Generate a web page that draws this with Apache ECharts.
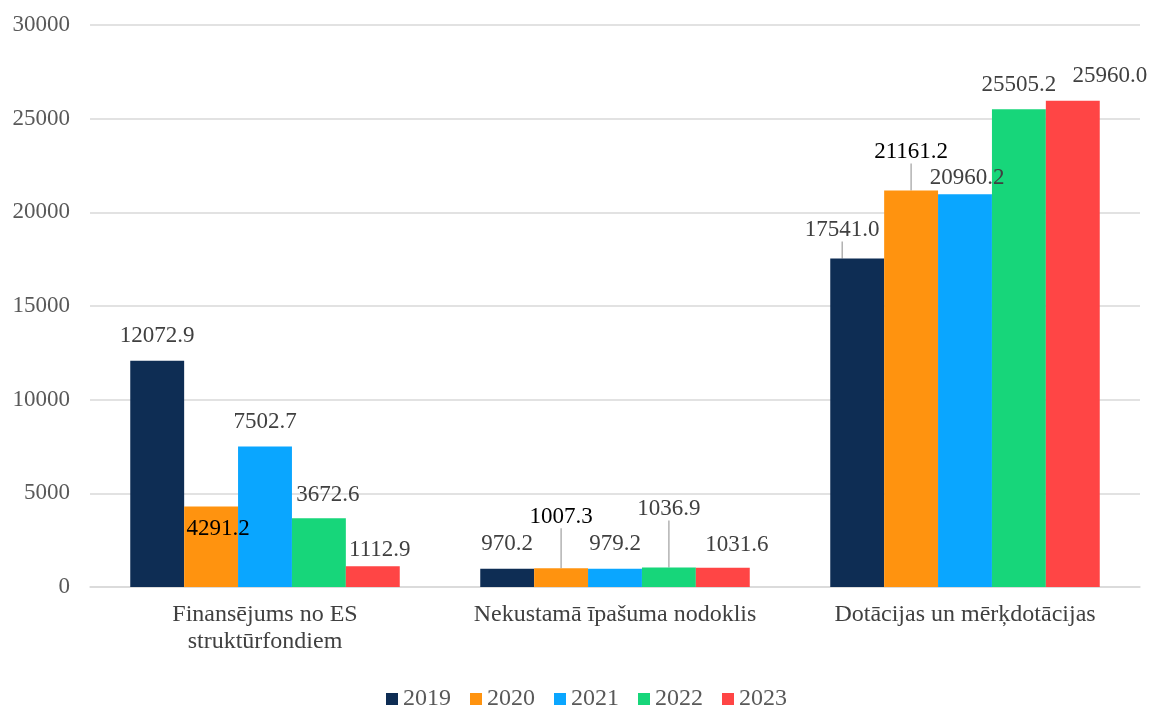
<!DOCTYPE html>
<html>
<head>
<meta charset="utf-8">
<script src="https://cdn.jsdelivr.net/npm/echarts@6/dist/echarts.min.js"></script>
<style>html,body{margin:0;padding:0;background:#fff}#c{width:1150px;height:708px}</style>
</head>
<body>
<div id="c"></div>
<script>
const categories = ['Finansējums no ES\nstruktūrfondiem', 'Nekustamā īpašuma nodoklis', 'Dotācijas un mērķdotācijas'];
const years = ['2019', '2020', '2021', '2022', '2023'];
const v2019 = [12072.9, 970.2, 17541.0];
const v2020 = [4291.2, 1007.3, 21161.2];
const v2021 = [7502.7, 979.2, 20960.2];
const v2022 = [3672.6, 1036.9, 25505.2];
const v2023 = [1112.9, 1031.6, 25960.0];
const yTicks = { min: 0, max: 30000, interval: 5000 };

const values = [v2019, v2020, v2021, v2022, v2023];
const colors = ['#0e2d54', '#ff930f', '#0aa6ff', '#17d67a', '#ff4545'];

// label layout adjustments [series][category] = [dx, dy, leaderLine, labelColor]
const labelAdj = [
  [[0, 0, false, '#404040'], [0, 0, false, '#404040'], [-15, -4, true, '#404040']],
  [[7, 47, false, '#000000'], [0, -27, true, '#000000'], [0, -14, true, '#000000']],
  [[0, 0, false, '#404040'], [0, 0, false, '#404040'], [2, 8, false, '#404040']],
  [[9, 1, false, '#404040'], [0, -34, true, '#404040'], [0, 0, false, '#404040']],
  [[7, 8, false, '#404040'], [14, 2, false, '#404040'], [37, 0, false, '#404040']]
];

const FONT = 'Liberation Serif';

const series = years.map((y, si) => ({
  name: y,
  type: 'bar',
  barGap: '0%',
  barCategoryGap: '23%',
  itemStyle: { color: colors[si] },
  data: values[si].map((v, ci) => ({
    value: v,
    label: { color: labelAdj[si][ci][3] },
    labelLine: { show: labelAdj[si][ci][2], lineStyle: { color: '#a6a6a6', width: 1.3 }, smooth: false, length2: 0 }
  })),
  label: {
    show: true,
    position: 'top',
    distance: 13,
    fontFamily: FONT,
    fontSize: 23,
    formatter: p => p.value.toFixed(1)
  },
  labelLayout: p => {
    const a = labelAdj[p.seriesIndex][p.dataIndex];
    return { dx: a[0], dy: a[1] };
  }
}));

const chart = echarts.init(document.getElementById('c'));
chart.setOption({
  animation: false,
  backgroundColor: '#ffffff',
  textStyle: { fontFamily: FONT },
  grid: { left: 90, right: 10, top: 25, bottom: 121, containLabel: false },
  legend: {
    bottom: -8,
    left: 381,
    itemWidth: 12,
    itemHeight: 12,
    itemGap: 19,
    icon: 'rect',
    textStyle: { fontFamily: FONT, fontSize: 24, color: '#595959' },
    data: years
  },
  xAxis: {
    type: 'category',
    data: categories,
    axisLine: { show: true, lineStyle: { color: '#d9d9d9', width: 1.5 } },
    axisTick: { show: false },
    axisLabel: { fontFamily: FONT, fontSize: 24, color: '#404040', lineHeight: 27, margin: 14, interval: 0 }
  },
  yAxis: {
    type: 'value',
    min: yTicks.min,
    max: yTicks.max,
    interval: yTicks.interval,
    axisLine: { show: false },
    axisTick: { show: false },
    splitLine: { lineStyle: { color: '#d9d9d9', width: 1.5 } },
    axisLabel: { fontFamily: FONT, fontSize: 23, color: '#595959', margin: 20, formatter: v => String(v) }
  },
  series: series
});
</script>
</body>
</html>
